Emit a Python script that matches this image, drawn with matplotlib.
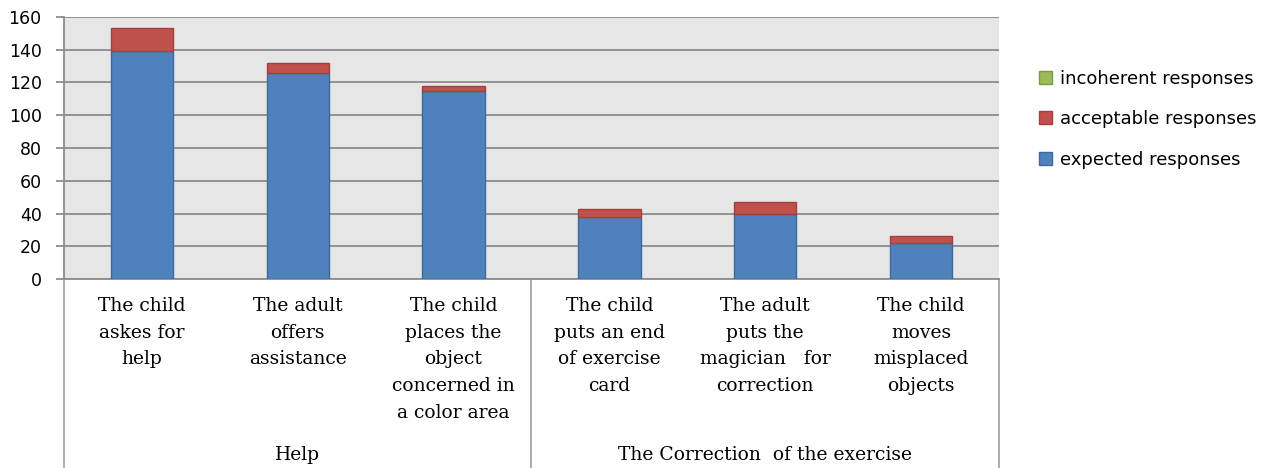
import matplotlib
matplotlib.use("Agg")
import matplotlib.pyplot as plt
import matplotlib.transforms as mtransforms
from matplotlib.patches import Patch
import numpy as np

categories = ["The child\naskes for\nhelp",
              "The adult\noffers\nassistance",
              "The child\nplaces the\nobject\nconcerned in\na color area",
              "The child\nputs an end\nof exercise\ncard",
              "The adult\nputs the\nmagician   for\ncorrection",
              "The child\nmoves\nmisplaced\nobjects"]
groups = ["Help", "The Correction  of the exercise"]
group_sizes = [3, 3]

expected = [139, 126, 115, 38, 40, 22]
acceptable = [14, 6, 3, 5, 7, 4]
incoherent = [0, 0, 0, 0, 0, 0]

fig = plt.figure(figsize=(12.64, 4.68), dpi=100)
ax = fig.add_axes([0.0506, 0.4038, 0.7397, 0.5599])
ax.set_facecolor("#e6e6e6")

x = np.arange(len(categories))
w = 0.4
exp = np.array(expected)
acc = np.array(acceptable)
inc = np.array(incoherent)
series = [(exp, np.zeros_like(exp), "#4f81bd", "#3d6a9c", "expected responses"),
          (acc, exp, "#c0504d", "#a33f3c", "acceptable responses"),
          (inc, exp + acc, "#9bbb59", "#7a9a3f", "incoherent responses")]
handles = []
for vals, bottom, fc, ec, lab in series:
    lw = [1 if v > 0 else 0 for v in vals]
    ax.bar(x, vals, w, bottom=bottom, color=fc, edgecolor=ec, linewidth=lw, zorder=3)
    handles.append(Patch(facecolor=fc, edgecolor=ec, linewidth=1, label=lab))

ax.set_xlim(-0.5, len(categories) - 0.5)
ax.set_ylim(0, 160)
ax.set_yticks(range(0, 161, 20))
ax.yaxis.grid(True, color="#8c8c8c", linewidth=1.3, zorder=1)
ax.set_axisbelow(True)
ax.tick_params(axis="y", length=6, color="#8c8c8c", width=1.3, labelsize=12.5, pad=10)
for s in ["top", "right"]:
    ax.spines[s].set_visible(False)
ax.spines["left"].set_color("#8c8c8c")
ax.spines["bottom"].set_color("#8c8c8c")
ax.spines["left"].set_linewidth(1.3)
ax.spines["bottom"].set_linewidth(1.3)

ax.set_xticks(x)
ax.set_xticklabels(categories, fontfamily="DejaVu Serif", fontsize=13.5, linespacing=1.62,
                   va="top")
ax.tick_params(axis="x", length=0, pad=13)

trans = mtransforms.blended_transform_factory(ax.transData, ax.transAxes)
# separators of the category table below the axis
sep = [-0.5]
pos = -0.5
for g in group_sizes:
    pos += g
    sep.append(pos)
for s in sep:
    ax.plot([s, s], [0, -0.75], transform=trans, color="#a6a6a6", linewidth=1.3, clip_on=False)

start = -0.5
for g, n in zip(groups, group_sizes):
    ax.text(start + n / 2, -0.67, g, transform=trans, ha="center", va="center",
            fontfamily="DejaVu Serif", fontsize=13.5)
    start += n

ax.legend(handles=handles[::-1], loc="upper left", bbox_to_anchor=(0.809, 0.886),
          bbox_transform=fig.transFigure, frameon=False, fontsize=13,
          labelspacing=1.25, handlelength=0.75, handleheight=0.75, handletextpad=0.4)

fig.savefig("out.png", dpi=100)
